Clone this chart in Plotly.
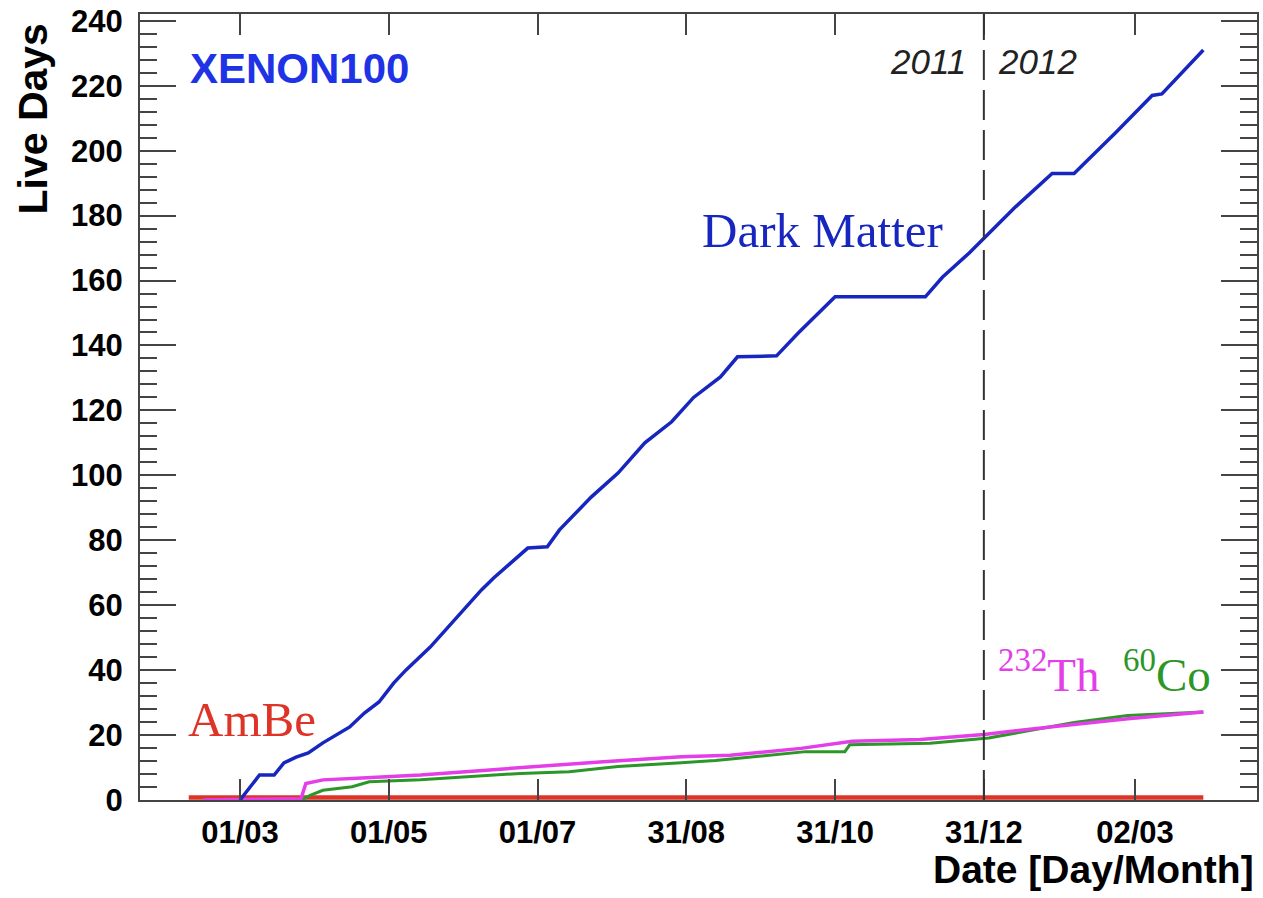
import plotly.graph_objects as go

# ---------------- data ----------------
dm_dates = ["2011-03-01", "2011-03-09", "2011-03-15", "2011-03-19", "2011-03-24",
            "2011-03-29", "2011-04-04", "2011-04-09", "2011-04-15", "2011-04-21",
            "2011-04-27", "2011-05-03", "2011-05-08", "2011-05-18", "2011-05-29",
            "2011-06-08", "2011-06-13", "2011-06-19", "2011-06-27", "2011-07-05",
            "2011-07-10", "2011-07-23", "2011-08-03", "2011-08-14", "2011-08-25",
            "2011-09-03", "2011-09-14", "2011-09-21", "2011-10-07", "2011-10-16",
            "2011-10-30", "2011-10-31", "2011-12-07", "2011-12-14", "2011-12-25",
            "2011-12-31", "2012-01-13", "2012-01-28", "2012-02-06", "2012-02-23",
            "2012-03-09", "2012-03-13", "2012-03-30"]
dm_days = [0, 7.7, 7.7, 11.4, 13.2,
           14.5, 17.6, 19.7, 22.5, 26.8,
           30.2, 36.0, 40.0, 47.1, 56.4,
           64.7, 68.4, 72.4, 77.6, 78.0,
           83.2, 93.3, 100.7, 110.0, 116.5,
           124.0, 130.3, 136.5, 136.8, 143.9,
           154.0, 155.0, 155.0, 161.0, 168.5,
           173.0, 182.7, 193.0, 193.0, 205.5,
           217.0, 217.5, 231.0]

th_dates = ["2011-02-14", "2011-03-26", "2011-03-28", "2011-04-04", "2011-04-20",
            "2011-05-14", "2011-06-10", "2011-06-30", "2011-07-28", "2011-08-29",
            "2011-09-18", "2011-10-17", "2011-11-07", "2011-12-05", "2011-12-31",
            "2012-01-31", "2012-02-28", "2012-03-30"]
th_days = [0, 0.4, 5.1, 6.2, 6.8,
           7.7, 9.2, 10.3, 11.8, 13.3,
           13.8, 15.9, 18.1, 18.6, 20.2,
           22.8, 25.0, 27.1]

co_dates = ["2011-02-14", "2011-03-26", "2011-03-30", "2011-04-04", "2011-04-16",
            "2011-04-23", "2011-05-14", "2011-06-03", "2011-06-24", "2011-07-14",
            "2011-08-03", "2011-08-29", "2011-09-12", "2011-10-19", "2011-11-04",
            "2011-11-06", "2011-12-09", "2012-01-02", "2012-02-06", "2012-02-28",
            "2012-03-30"]
co_days = [0, 0, 1.5, 3.0, 4.1,
           5.6, 6.2, 7.2, 8.2, 8.7,
           10.3, 11.5, 12.2, 14.9, 14.9,
           17.0, 17.5, 19.1, 23.9, 26.0,
           27.1]

ambe_dates = ["2011-02-08", "2012-03-30"]
ambe_days = [0.8, 0.8]

tick_dates = ["2011-03-01", "2011-05-01", "2011-07-01", "2011-08-31",
              "2011-10-31", "2011-12-31", "2012-03-02"]
tick_labels = ["01/03", "01/05", "01/07", "31/08", "31/10", "31/12", "02/03"]
year_boundary = "2011-12-31"

# ---------------- styling ----------------
BLUE = "rgb(22,38,190)"
MAGENTA = "rgb(228,62,232)"
GREEN = "rgb(44,150,40)"
RED = "rgb(222,52,40)"
AX = "#444444"
SANS = "Liberation Sans, Arial, sans-serif"
SERIF = "Liberation Serif, Times New Roman, serif"

fig = go.Figure()
fig.add_trace(go.Scatter(x=ambe_dates, y=ambe_days, mode="lines",
                         line=dict(color=RED, width=4.5), name="AmBe"))
fig.add_trace(go.Scatter(x=co_dates, y=co_days, mode="lines",
                         line=dict(color=GREEN, width=3), name="60Co"))
fig.add_trace(go.Scatter(x=th_dates, y=th_days, mode="lines",
                         line=dict(color=MAGENTA, width=3.5), name="232Th"))
fig.add_trace(go.Scatter(x=dm_dates, y=dm_days, mode="lines",
                         line=dict(color=BLUE, width=3.5), name="Dark Matter"))

fig.add_shape(type="line", xref="x", yref="paper", x0=year_boundary, x1=year_boundary,
              y0=0, y1=1, line=dict(color="#333333", width=2, dash="30px,10px"))

fig.update_layout(
    width=1263, height=898,
    margin=dict(l=140, r=4, t=14, b=98),
    paper_bgcolor="white", plot_bgcolor="white",
    showlegend=False,
    xaxis=dict(
        type="date", range=["2011-01-19", "2012-04-21"],
        tickmode="array", tickvals=tick_dates, ticktext=tick_labels,
        ticks="inside", ticklen=21, tickwidth=2, tickcolor=AX,
        showline=True, linecolor=AX, linewidth=2, mirror="ticks",
        showgrid=False, zeroline=False,
        tickfont=dict(family=SANS, size=31, color="black", weight="bold"),
        ticklabelstandoff=4,
    ),
    yaxis=dict(
        range=[0, 242.1], tickmode="linear", tick0=0, dtick=20,
        ticks="inside", ticklen=36, tickwidth=2, tickcolor=AX,
        minor=dict(ticks="inside", ticklen=17, dtick=4, tickwidth=2, tickcolor=AX),
        showline=True, linecolor=AX, linewidth=2, mirror="ticks",
        showgrid=False, zeroline=False,
        tickfont=dict(family=SANS, size=31, color="black", weight="bold"),
        ticklabelstandoff=9,
    ),
)

annotations = [
    dict(text="Live Days", x=-0.0956, y=0.866, textangle=-90,
         font=dict(family=SANS, size=41, color="black", weight="bold")),
    dict(text="Date [Day/Month]", x=0.999, y=-0.089, xanchor="right",
         font=dict(family=SANS, size=39, color="black", weight="bold")),
    dict(text="XENON100", x=0.0429, y=0.931, xanchor="left",
         font=dict(family=SANS, size=42, color="rgb(30,50,230)", weight="bold")),
    dict(text="<i>2011</i>", x=0.7417, y=0.939, xanchor="right",
         font=dict(family=SANS, size=35, color="#222222")),
    dict(text="<i>2012</i>", x=0.7659, y=0.939, xanchor="left",
         font=dict(family=SANS, size=35, color="#222222")),
    dict(text="Dark Matter", x=0.6113, y=0.724,
         font=dict(family=SERIF, size=49, color=BLUE)),
    dict(text="AmBe", x=0.1001, y=0.102,
         font=dict(family=SERIF, size=49, color=RED)),
    dict(text=f"<span style='color:{MAGENTA}'><sup>232</sup>Th</span>  "
              f"<span style='color:{GREEN}'><sup>60</sup>Co</span>",
         x=0.8635, y=0.163, font=dict(family=SERIF, size=47, color=MAGENTA)),
]
for a in annotations:
    a.setdefault("xref", "paper")
    a.setdefault("yref", "paper")
    a.setdefault("showarrow", False)
    a.setdefault("xanchor", "center")
    a.setdefault("yanchor", "middle")
fig.update_layout(annotations=annotations)

fig.write_html("out.html")
